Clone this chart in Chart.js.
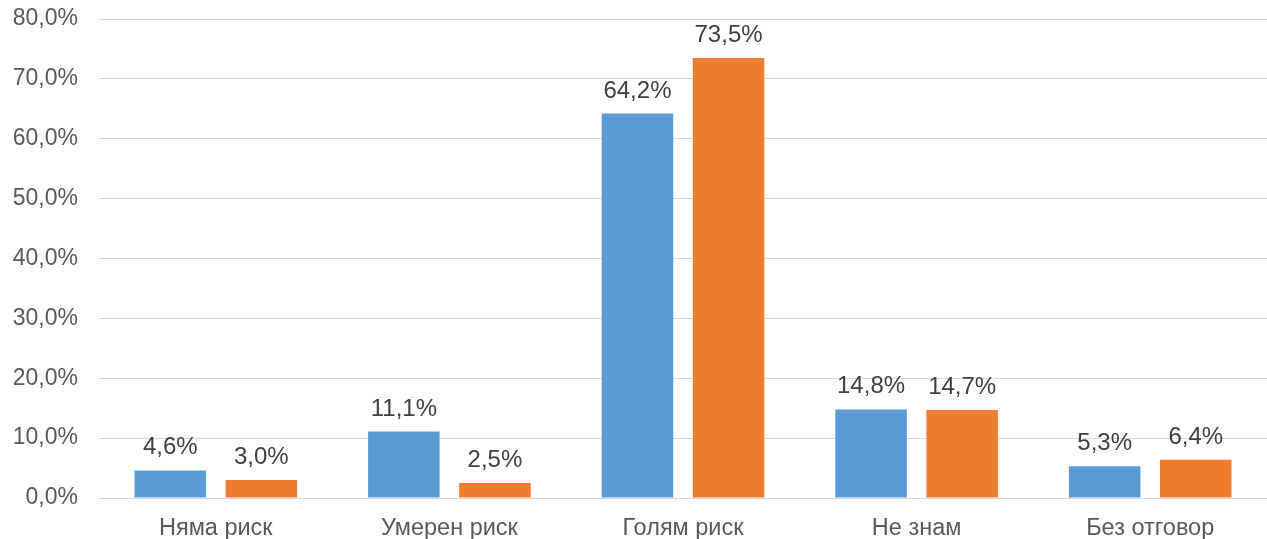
<!DOCTYPE html>
<html>
<head>
<meta charset="utf-8">
<script src="https://cdn.jsdelivr.net/npm/chart.js@4/dist/chart.umd.min.js"></script>
<style>
  html, body { margin: 0; padding: 0; background: #fff; }
  #wrap { width: 1267px; height: 539px; }
</style>
</head>
<body>
<div id="wrap"><canvas id="risk-bars"></canvas></div>
<script>
const categories = ['Няма риск', 'Умерен риск', 'Голям риск', 'Не знам', 'Без отговор']
const seriesA = [4.6, 11.1, 64.2, 14.8, 5.3]
const seriesB = [3.0, 2.5, 73.5, 14.7, 6.4]
const yTicks = [0, 10, 20, 30, 40, 50, 60, 70, 80]

const pct = v => v.toFixed(1).replace('.', ',') + '%'

const valueLabels = {
  id: 'valueLabels',
  afterDatasetsDraw(chart) {
    const ctx = chart.ctx
    ctx.save()
    ctx.font = '24px "Liberation Sans", Arial, sans-serif'
    ctx.fillStyle = '#404040'
    ctx.textAlign = 'center'
    ctx.textBaseline = 'alphabetic'
    chart.data.datasets.forEach((ds, i) => {
      chart.getDatasetMeta(i).data.forEach((bar, j) => {
        ctx.fillText(pct(ds.data[j]), bar.x, bar.y - 16)
      })
    })
    ctx.restore()
  }
}

new Chart(document.querySelector('#risk-bars'), {
  type: 'bar',
  data: {
    labels: categories,
    datasets: [
      { label: 'A', data: seriesA, backgroundColor: '#5B9BD5', categoryPercentage: 0.78, barPercentage: 0.785 },
      { label: 'B', data: seriesB, backgroundColor: '#ED7D31', categoryPercentage: 0.78, barPercentage: 0.785 }
    ]
  },
  options: {
    responsive: true,
    maintainAspectRatio: false,
    animation: false,
    layout: { padding: { top: 19, right: 0, bottom: 0, left: 0 } },
    plugins: { legend: { display: false }, tooltip: { enabled: false } },
    scales: {
      x: {
        grid: { display: false },
        border: { display: false },
        ticks: {
          color: '#595959',
          padding: 8,
          font: { family: '"Liberation Sans", Arial, sans-serif', size: 23.5 }
        },
        afterFit: scale => { scale.height = 41 }
      },
      y: {
        min: 0,
        max: 80,
        afterBuildTicks: scale => { scale.ticks = yTicks.map(v => ({ value: v })) },
        grid: { color: '#d9d9d9', lineWidth: 1, drawTicks: false },
        border: { display: false },
        ticks: {
          color: '#595959',
          padding: 21,
          callback: v => pct(v),
          font: { family: '"Liberation Sans", Arial, sans-serif', size: 23 }
        },
        afterFit: scale => {
          scale.width = 99
          scale.paddingTop = 0
          scale.paddingBottom = 0
        }
      }
    }
  },
  plugins: [valueLabels]
})
</script>
</body>
</html>
